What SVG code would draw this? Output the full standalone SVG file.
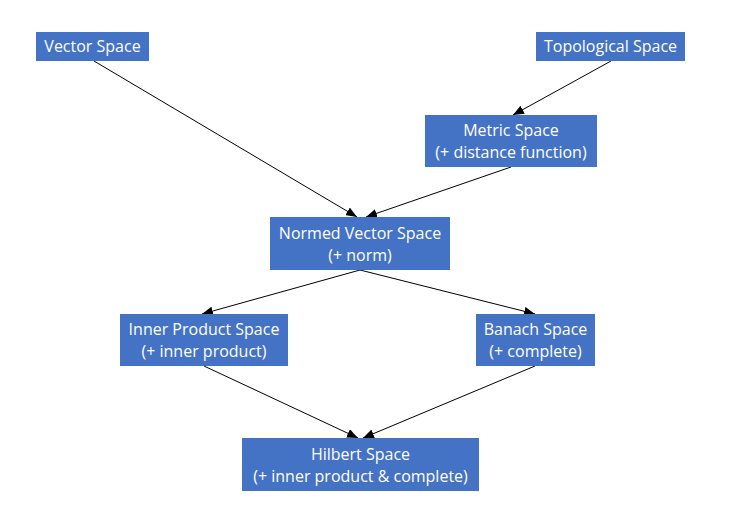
<svg xmlns="http://www.w3.org/2000/svg" width="732" height="523" viewBox="0 0 732 523">
<style>
.box{fill:#4472C4}
.t{font-family:"Open Sans","Noto Sans","Liberation Sans",sans-serif;font-size:16px;fill:#fff;text-anchor:middle}
.c{stroke:#000;stroke-width:1;fill:none;marker-end:url(#ah)}
</style>
<defs>
<marker id="ah" markerWidth="11" markerHeight="9" refX="11" refY="4.5" orient="auto" markerUnits="userSpaceOnUse">
<path d="M0,0 L11,4.5 L0,9 Z" fill="#000"/>
</marker>
</defs>
<rect width="732" height="523" fill="#fff"/>
<g id="connectors">
<line class="c" x1="94" y1="61" x2="357" y2="217"/>
<line class="c" x1="611" y1="61" x2="513" y2="115"/>
<line class="c" x1="511" y1="167" x2="366" y2="217"/>
<line class="c" x1="360" y1="270" x2="202" y2="314"/>
<line class="c" x1="360" y1="270" x2="535" y2="314"/>
<line class="c" x1="204" y1="366" x2="358" y2="438"/>
<line class="c" x1="535" y1="366" x2="363" y2="438"/>
</g>
<g id="vector">
<rect class="box" x="36" y="32" width="113" height="29"/>
<text class="t" x="92.5" y="52">Vector Space</text>
</g>
<g id="topological">
<rect class="box" x="536" y="32" width="149" height="29"/>
<text class="t" x="610.5" y="52">Topological Space</text>
</g>
<g id="metric">
<rect class="box" x="425" y="115" width="172" height="52"/>
<text class="t" x="511" y="136">Metric Space</text>
<text class="t" x="511" y="158">(+ distance function)</text>
</g>
<g id="normed">
<rect class="box" x="270" y="217" width="180" height="53"/>
<text class="t" x="360" y="239">Normed Vector Space</text>
<text class="t" x="360" y="261">(+ norm)</text>
</g>
<g id="inner">
<rect class="box" x="120" y="314" width="168" height="52"/>
<text class="t" x="204" y="335">Inner Product Space</text>
<text class="t" x="204" y="357">(+ inner product)</text>
</g>
<g id="banach">
<rect class="box" x="476" y="314" width="119" height="52"/>
<text class="t" x="535.5" y="335">Banach Space</text>
<text class="t" x="535.5" y="357">(+ complete)</text>
</g>
<g id="hilbert">
<rect class="box" x="242" y="438" width="237" height="53"/>
<text class="t" x="360.5" y="460">Hilbert Space</text>
<text class="t" x="360.5" y="482">(+ inner product &amp; complete)</text>
</g>
</svg>
